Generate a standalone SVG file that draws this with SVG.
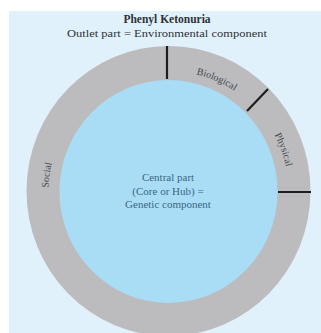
<svg xmlns="http://www.w3.org/2000/svg" xmlns:xlink="http://www.w3.org/1999/xlink" width="321" height="333" viewBox="0 0 321 333">
  <style>
    .title { font-family: "Liberation Serif", serif; fill: #2e3238; text-anchor: middle; }
    .core-label { font-family: "Liberation Serif", serif; font-size: 11px; fill: #3a6784; text-anchor: middle; }
    .ring-label { font-family: "Liberation Serif", serif; font-size: 10px; fill: #45474d; text-anchor: middle; }
    .divider { stroke: #1e1e1e; stroke-width: 2.2; }
  </style>
  <defs>
    <!-- clockwise circle starting at the bottom, used as baseline for ring labels -->
    <path id="ringPath" d="M 168.5,311 A 120 120 0 1 1 168.5,71 A 120 120 0 1 1 168.5,311"/>
  </defs>

  <!-- backdrop panel -->
  <rect x="0" y="0" width="321" height="333" fill="#ffffff"/>
  <rect x="9" y="11" width="312" height="322" fill="#e1f1fb"/>

  <g id="title">
    <text class="title" x="167" y="23" font-size="11.5" font-weight="bold">Phenyl Ketonuria</text>
    <text class="title" x="167" y="37" font-size="11" textLength="200" lengthAdjust="spacingAndGlyphs">Outlet part  = Environmental component</text>
  </g>

  <g id="outlet-ring">
    <ellipse cx="168.5" cy="191" rx="142" ry="145" fill="#bcbcbf"/>
  </g>

  <g id="core">
    <ellipse cx="168.5" cy="191.5" rx="109" ry="111.5" fill="#a9ddf6"/>
    <text class="core-label" x="168" y="181">Central part</text>
    <text class="core-label" x="168" y="195">(Core or Hub) =</text>
    <text class="core-label" x="168" y="208">Genetic component</text>
  </g>

  <g id="connectors">
    <line class="divider" x1="167" y1="46" x2="167" y2="79"/>
    <line class="divider" x1="268" y1="89" x2="247" y2="111"/>
    <line class="divider" x1="278" y1="192" x2="311" y2="192"/>
  </g>

  <g id="social">
    <text class="ring-label"><textPath xlink:href="#ringPath" startOffset="27.1%">Social</textPath></text>
  </g>
  <g id="biological">
    <text class="ring-label"><textPath xlink:href="#ringPath" startOffset="56.5%">Biological</textPath></text>
  </g>
  <g id="physical">
    <text class="ring-label"><textPath xlink:href="#ringPath" startOffset="69.5%">Physical</textPath></text>
  </g>
</svg>
